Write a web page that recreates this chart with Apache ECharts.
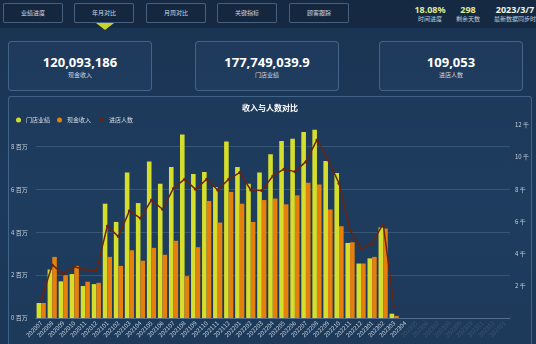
<!DOCTYPE html>
<html>
<head>
<meta charset="utf-8">
<script src="https://cdn.jsdelivr.net/npm/echarts@6/dist/echarts.min.js"></script>
<style>
  html, body { margin: 0; padding: 0; }
  body {
    width: 536px; height: 344px; overflow: hidden; position: relative;
    background: linear-gradient(180deg, #1a3352 0%, #1c3a5c 60%, #1b3656 100%);
    font-family: 'Noto Sans CJK SC', 'Noto Sans', sans-serif; color: #fff;
  }
  #topbar { position: absolute; left: 0; top: 0; width: 536px; height: 28px; background: #152a42; }
  .nav {
    position: absolute; top: 3px; height: 20px; width: 60px; box-sizing: border-box;
    border: 1px solid rgba(110,145,185,0.55); background: #14273e; border-radius: 2px;
    font-size: 6px; line-height: 18px; text-align: center; color: #d2dae3;
  }
  #arrow {
    position: absolute; left: 96px; top: 23px; width: 0; height: 0;
    border-left: 9px solid transparent; border-right: 9px solid transparent; border-top: 7px solid #c9d32a;
  }
  .stat { position: absolute; top: 4px; text-align: center; }
  .stat .v { font-family: 'Noto Sans', sans-serif; font-weight: bold; font-size: 9px; line-height: 11px; color: #dfe996; }
  .stat .l { font-size: 6px; line-height: 8px; color: #c3ccd6; white-space: nowrap; }
  .card {
    position: absolute; top: 41px; height: 50px; width: 144px; box-sizing: border-box;
    border: 1px solid rgba(110,150,190,0.45); border-radius: 4px; background: rgba(40,70,105,0.35);
    text-align: center;
  }
  .card .v { font-family: 'Noto Sans', sans-serif; font-weight: bold; font-size: 13px; line-height: 15px; margin-top: 13px; color: #fff; }
  .card .l { font-size: 6px; line-height: 8px; color: #d0d8e2; margin-top: 1px; }
  #panel {
    position: absolute; left: 8px; top: 96px; width: 524px; height: 260px; box-sizing: border-box;
    border: 1px solid rgba(110,150,190,0.45); border-radius: 3px; background: rgba(35,66,100,0.35);
  }
  #chart { position: absolute; left: 8px; top: 96px; width: 524px; height: 248px; }
</style>
</head>
<body>
<div id="topbar"></div>
<div class="nav" style="left:3px">业绩进度</div>
<div class="nav" style="left:74px">年月对比</div>
<div class="nav" style="left:146px">月周对比</div>
<div class="nav" style="left:217px">关键指标</div>
<div class="nav" style="left:289px">顾客跟踪</div>
<div id="arrow"></div>
<div class="stat" style="left:410px;width:40px"><div class="v">18.08%</div><div class="l">时间进度</div></div>
<div class="stat" style="left:452px;width:32px"><div class="v">298</div><div class="l">剩余天数</div></div>
<div class="stat" style="left:494px;width:42px"><div class="v" style="color:#f1f4e6">2023/3/7</div><div class="l">最新数据同步时间</div></div>

<div class="card" style="left:8px"><div class="v">120,093,186</div><div class="l">现金收入</div></div>
<div class="card" style="left:195px"><div class="v">177,749,039.9</div><div class="l">门店业绩</div></div>
<div class="card" style="left:379px"><div class="v">109,053</div><div class="l">进店人数</div></div>

<div id="panel"></div>
<div id="chart"></div>

<script>
// Months on the category axis
const months = [
  '202007','202008','202009','202010','202011','202012',
  '202101','202102','202103','202104','202105','202106','202107','202108','202109','202110','202111','202112',
  '202201','202202','202203','202204','202205','202206','202207','202208','202209','202210','202211','202212',
  '202301','202302','202303','202304','202305','202306','202307','202308','202309','202310','202311','202312',
  '202401'
];
// Months that already have data (the rest of the axis is still empty)
const lastDataMonth = '202304';

// 门店业绩 (yuan)
const storeSales = [
  700000, 2260000, 1710000, 2050000, 1490000, 1580000,
  5330000, 4480000, 6780000, 5360000, 7300000, 6260000, 7040000, 8560000, 6710000, 6810000, 6110000, 8230000,
  7040000, 6260000, 6780000, 7640000, 8250000, 8360000, 8670000, 8780000, 7320000, 6760000, 3500000, 2540000,
  2780000, 4220000, 200000
];
// 现金收入 (yuan)
const cashIncome = [
  700000, 2850000, 2000000, 2430000, 1690000, 1640000,
  2850000, 2430000, 3160000, 2670000, 3270000, 2950000, 3600000, 1950000, 3300000, 5460000, 4450000, 5880000,
  5330000, 4480000, 5500000, 5570000, 5300000, 5720000, 6310000, 6230000, 5060000, 4280000, 3530000, 2540000,
  2850000, 4170000, 100000
];
// 进店人数 (persons)
const visitors = [
  1120, 3300, 2740, 3190, 3000, 2950,
  5720, 5060, 6670, 6200, 7340, 6760, 8070, 8630, 8000, 8630, 7960, 8630,
  9040, 7960, 7920, 8830, 9250, 9100, 9720, 11070, 9830, 8380, 5470, 4300,
  4650, 5850, 700
];

const chart = echarts.init(document.getElementById('chart'), null, { renderer: 'canvas' });
const labelColor = '#c7d1dc';
const cjk = 'Noto Sans CJK SC';

chart.setOption({
  animation: false,
  textStyle: { fontFamily: cjk },
  title: {
    text: '收入与人数对比', left: 'center', top: 3,
    textStyle: { color: '#ffffff', fontSize: 8, fontWeight: 'bold', fontFamily: cjk }
  },
  legend: {
    left: 3, top: 16, itemWidth: 5, itemHeight: 5, itemGap: 7,
    textStyle: { color: '#d5dde6', fontSize: 6, fontFamily: cjk },
    data: [
      { name: '门店业绩', icon: 'circle' },
      { name: '现金收入', icon: 'circle' },
      { name: '进店人数' }
    ]
  },
  grid: { left: 27.5, right: 19.3, top: 29, bottom: 26 },
  xAxis: {
    type: 'category',
    data: months,
    axisLine: { lineStyle: { color: 'rgba(190,205,225,0.35)' } },
    axisTick: { show: false },
    axisLabel: {
      rotate: 45, fontSize: 6, margin: 4, interval: 0,
      color: function (value) { return value <= lastDataMonth ? labelColor : 'rgba(199,209,220,0.18)'; }
    }
  },
  yAxis: [
    {
      type: 'value', min: 0, max: 9000000, interval: 2000000,
      axisLine: { show: false }, axisTick: { show: false },
      axisLabel: {
        color: labelColor, fontSize: 6, margin: 8, showMaxLabel: false,
        formatter: function (v) { return (v / 1000000) + ' 百万'; }
      },
      splitLine: { show: true, showMinLine: false, showMaxLine: false, lineStyle: { color: 'rgba(200,215,235,0.16)', width: 1 } }
    },
    {
      type: 'value', min: 0, max: 12000, interval: 2000, position: 'right',
      axisLine: { show: false }, axisTick: { show: false },
      axisLabel: {
        color: labelColor, fontSize: 6, margin: 5, showMinLabel: false,
        formatter: function (v) { return (v / 1000) + ' 千'; }
      },
      splitLine: { show: false }
    }
  ],
  series: [
    {
      name: '门店业绩', type: 'bar', data: storeSales,
      barWidth: 4.6, barGap: '0%',
      itemStyle: { color: '#d5de2c' }
    },
    {
      name: '现金收入', type: 'bar', data: cashIncome,
      barWidth: 4.6, barGap: '0%',
      itemStyle: { color: '#e5800f' }
    },
    {
      name: '进店人数', type: 'line', yAxisIndex: 1, data: visitors,
      symbol: 'circle', symbolSize: 3, z: 5,
      lineStyle: { color: '#6a2410', width: 1.5 },
      itemStyle: { color: '#6a2410' }
    }
  ]
});
</script>
</body>
</html>
